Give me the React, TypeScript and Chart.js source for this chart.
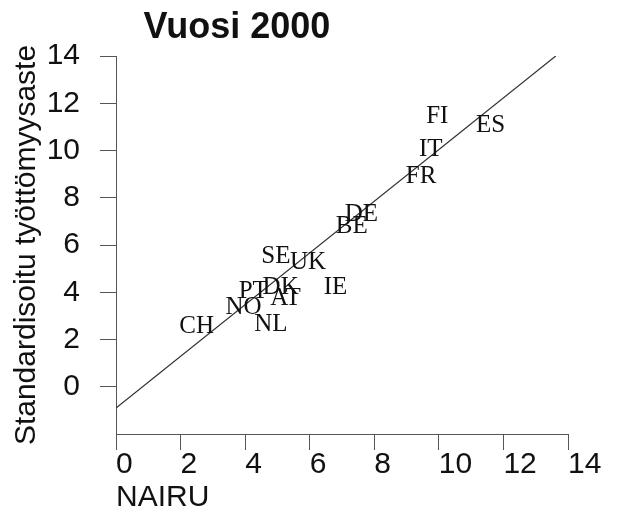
import React, { useEffect, useRef } from "react";
import { Chart, registerables } from "chart.js";

Chart.register(...registerables);

const countries = ["FI", "ES", "IT", "FR", "DE", "BE", "SE", "UK", "IE", "DK", "PT", "AT", "NO", "NL", "CH"];
const nairu = [9.95, 11.6, 9.75, 9.45, 7.6, 7.3, 4.95, 5.95, 6.8, 5.1, 4.25, 5.25, 3.95, 4.8, 2.5];
const unemployment = [11.45, 11.05, 10.05, 8.9, 7.3, 6.8, 5.5, 5.25, 4.2, 4.2, 4.05, 3.75, 3.35, 2.65, 2.55];

const fitLineX = [0, 13.62];
const fitLineY = [-0.9, 14.0];

const xTicks = [0, 2, 4, 6, 8, 10, 12, 14];
const yTicks = [0, 2, 4, 6, 8, 10, 12, 14];

const chartTitle = "Vuosi 2000";
const xTitle = "NAIRU";
const yTitle = "Standardisoitu työttömyysaste";

const SANS = "'Liberation Sans', Arial, Helvetica, sans-serif";
const SERIF = "'Liberation Serif', 'Times New Roman', serif";
const AXIS_COLOR = "#555555";

const countryLabelPlugin = {
  id: "countryLabels",
  afterDatasetsDraw(chart: any) {
    const meta = chart.getDatasetMeta(0);
    const ctx = chart.ctx;
    ctx.save();
    ctx.font = `25px ${SERIF}`;
    ctx.fillStyle = "#111111";
    ctx.textAlign = "center";
    ctx.textBaseline = "middle";
    meta.data.forEach((el: any, i: number) => {
      ctx.fillText(countries[i], el.x, el.y);
    });
    ctx.restore();
  },
};

const plotTitlePlugin = {
  id: "plotTitle",
  afterDraw(chart: any) {
    const ctx = chart.ctx;
    const area = chart.chartArea;
    ctx.save();
    ctx.font = `bold 36px ${SANS}`;
    ctx.fillStyle = "#111111";
    ctx.textAlign = "center";
    ctx.textBaseline = "alphabetic";
    ctx.fillText(chartTitle, area.left + 121, area.top - 18);
    ctx.restore();
  },
};

export default function App() {
  const canvasRef = useRef<HTMLCanvasElement | null>(null);

  useEffect(() => {
    if (!canvasRef.current) return;
    const chart = new Chart(canvasRef.current, {
      type: "scatter",
      data: {
        datasets: [
          {
            label: "Maat",
            data: countries.map((_, i) => ({ x: nairu[i], y: unemployment[i] })),
            pointRadius: 0,
            pointHoverRadius: 0,
            showLine: false,
          },
          {
            label: "Sovite",
            type: "line",
            data: fitLineX.map((x, i) => ({ x, y: fitLineY[i] })),
            borderColor: "#333333",
            borderWidth: 1.2,
            pointRadius: 0,
            fill: false,
            tension: 0,
          } as any,
        ],
      },
      options: {
        responsive: false,
        animation: false,
        layout: { padding: { top: 56, right: 57, bottom: 0, left: 0 } },
        plugins: {
          legend: { display: false },
          tooltip: { enabled: false },
          title: { display: false },
        },
        scales: {
          x: {
            type: "linear",
            min: 0,
            max: 14,
            afterBuildTicks: (scale: any) => {
              scale.ticks = xTicks.map((v) => ({ value: v }));
            },
            afterFit: (scale: any) => {
              scale.height = 81;
            },
            ticks: {
              align: "start",
              padding: 0,
              color: "#111111",
              font: { family: SANS, size: 30, lineHeight: 1 },
              maxRotation: 0,
              autoSkip: false,
            },
            grid: {
              drawOnChartArea: false,
              drawTicks: true,
              tickLength: 16,
              tickColor: AXIS_COLOR,
              tickWidth: 1,
            },
            border: { display: true, color: AXIS_COLOR, width: 1 },
            title: {
              display: true,
              text: xTitle,
              align: "start",
              color: "#111111",
              font: { family: SANS, size: 30, lineHeight: 1 },
              padding: { top: 1, bottom: 2 },
            },
          },
          y: {
            type: "linear",
            min: -2,
            max: 14,
            afterBuildTicks: (scale: any) => {
              scale.ticks = yTicks.map((v) => ({ value: v }));
            },
            afterFit: (scale: any) => {
              scale.width = 116;
            },
            ticks: {
              padding: 20,
              color: "#111111",
              font: { family: SANS, size: 30, lineHeight: 1 },
              autoSkip: false,
            },
            grid: {
              drawOnChartArea: false,
              drawTicks: true,
              tickLength: 16,
              tickColor: AXIS_COLOR,
              tickWidth: 1,
            },
            border: { display: true, color: AXIS_COLOR, width: 1 },
            title: {
              display: true,
              text: yTitle,
              color: "#111111",
              font: { family: SANS, size: 30, lineHeight: 1 },
              padding: { top: 12, bottom: 0 },
            },
          },
        },
      } as any,
      plugins: [countryLabelPlugin, plotTitlePlugin],
    });
    return () => chart.destroy();
  }, []);

  return (
    <div style={{ position: "absolute", left: 0, top: 0, width: 625, height: 515, background: "#ffffff" }}>
      <canvas ref={canvasRef} width={625} height={515} style={{ display: "block" }} />
    </div>
  );
}
